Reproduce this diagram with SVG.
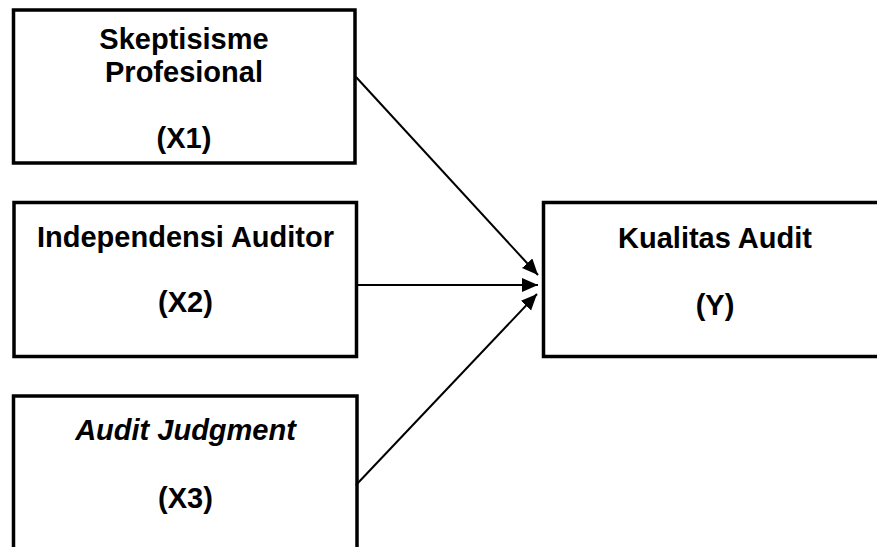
<svg xmlns="http://www.w3.org/2000/svg" width="877" height="547" viewBox="0 0 877 547">
<style>
.box{fill:#fff;stroke:#000;stroke-width:3.5}
.t{font-family:"Liberation Sans",Arial,sans-serif;font-weight:bold;font-size:29px;fill:#000;text-anchor:middle}
.i{font-style:italic}
.c{stroke:#000;stroke-width:2;fill:none}
</style>
<defs>
<marker id="ah" markerUnits="userSpaceOnUse" markerWidth="18" markerHeight="16" refX="16" refY="7" orient="auto">
<path d="M0,0 L16,7 L0,14 Z" fill="#000"/>
</marker>
</defs>
<rect width="877" height="547" fill="#fff"/>
<g id="x1">
<rect class="box" x="13.5" y="10" width="341.5" height="153"/>
<text class="t" x="184" y="49">Skeptisisme</text>
<text class="t" x="184" y="82">Profesional</text>
<text class="t" x="184" y="148">(X1)</text>
</g>
<g id="x2">
<rect class="box" x="14" y="202.5" width="342.5" height="154"/>
<text class="t" x="185.5" y="247">Independensi Auditor</text>
<text class="t" x="185.5" y="312">(X2)</text>
</g>
<g id="x3">
<rect class="box" x="13.5" y="396" width="343.5" height="170"/>
<text class="t i" x="185.5" y="440">Audit Judgment</text>
<text class="t" x="185.5" y="508">(X3)</text>
</g>
<g id="y">
<rect class="box" x="543.5" y="202.5" width="345" height="154"/>
<text class="t" x="715" y="248">Kualitas Audit</text>
<text class="t" x="715" y="315">(Y)</text>
</g>
<g id="connectors">
<line class="c" x1="356" y1="77" x2="538" y2="275" marker-end="url(#ah)"/>
<line class="c" x1="357" y1="285" x2="538" y2="285" marker-end="url(#ah)"/>
<line class="c" x1="356" y1="485" x2="537" y2="294" marker-end="url(#ah)"/>
</g>
</svg>
